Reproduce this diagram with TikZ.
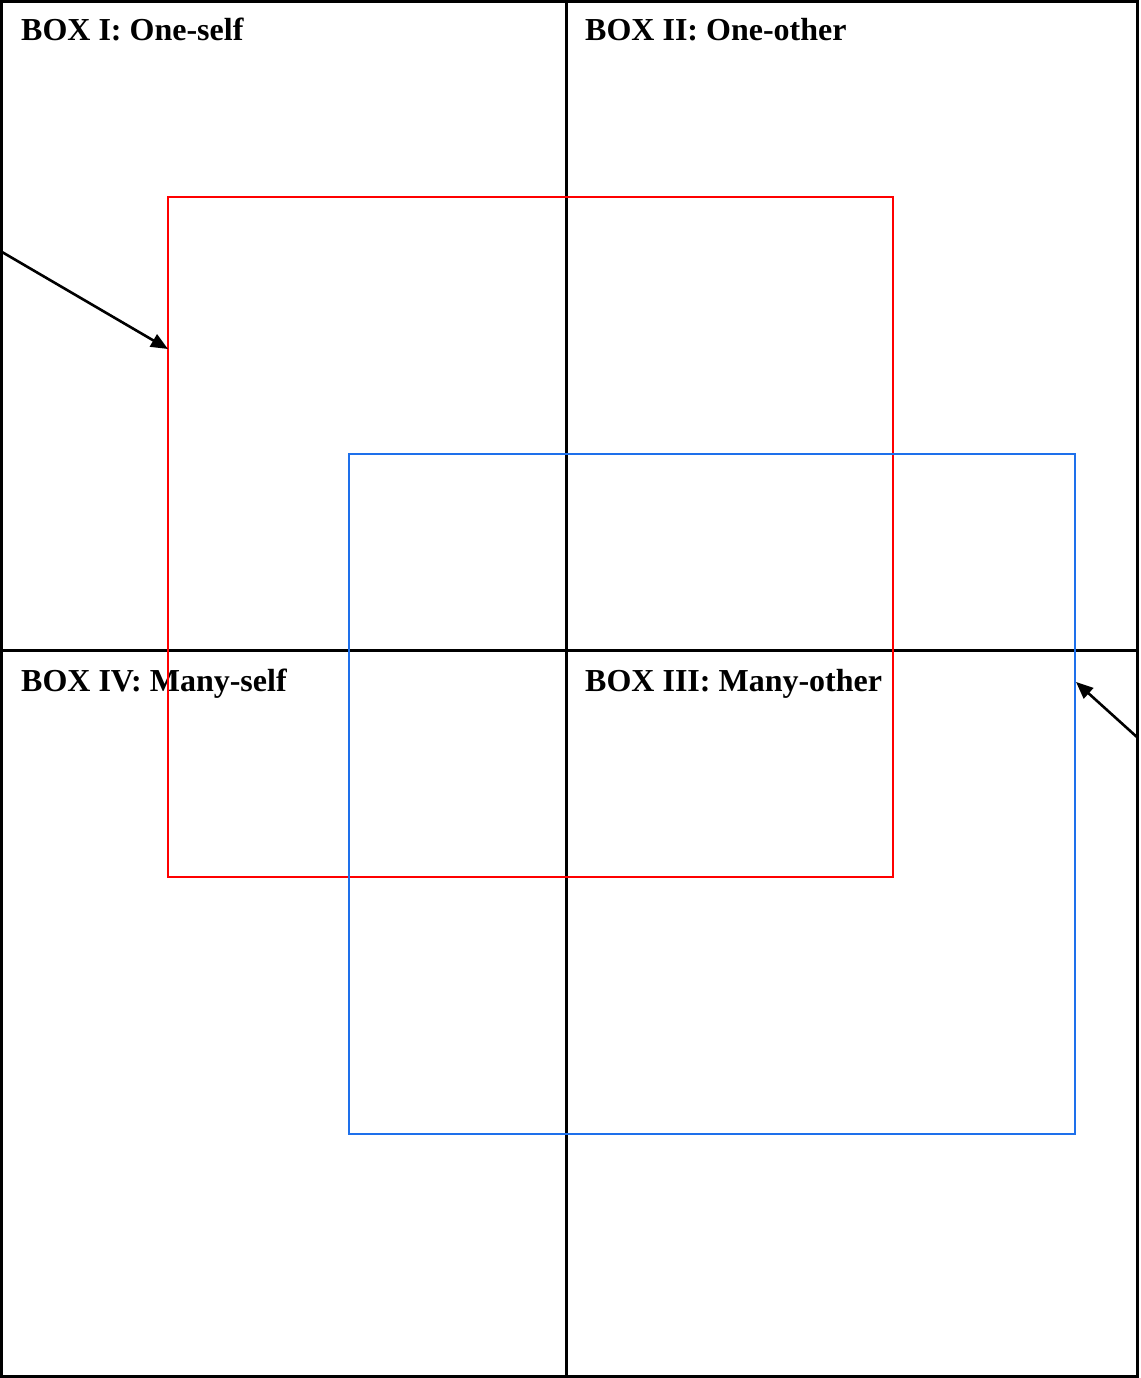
\documentclass[tikz,border=0pt]{standalone}
\usepackage{fontspec}
\setmainfont{Liberation Serif}
\usetikzlibrary{arrows.meta}
\definecolor{boxred}{RGB}{255,0,0}
\definecolor{boxblue}{RGB}{30,112,235}
\begin{document}
\begin{tikzpicture}[x=1pt,y=-1pt,
  frame/.style={draw=black,line width=3pt},
  region/.style={line width=2.3pt},
  lbl/.style={font=\bfseries\fontsize{32}{32}\selectfont,inner sep=0pt,anchor=base west},
  pointer/.style={draw=black,line width=2.6pt,-{Triangle[length=17pt,width=14pt]}}]
\useasboundingbox (0,0) rectangle (1140,1378);
% outer frame and quadrant dividers
\draw[frame] (1.5,1.5) rectangle (1137,1376);
\draw[frame] (566,1.5) -- (566,1376);
\draw[frame] (1.5,650) -- (1137,650);
% labels
\node[lbl] (b1) at (21,41) {BOX I: One-self};
\node[lbl] (b2) at (585,41) {BOX II: One-other};
\node[lbl] (b4) at (21,691) {BOX IV: Many-self};
\node[lbl] (b3) at (585,691) {BOX III: Many-other};
% red and blue regions
\draw[region,draw=boxred] (168,197) rectangle (893,877);
\draw[region,draw=boxblue] (349,454) rectangle (1075,1134);
\coordinate (redL) at (168,349);
\coordinate (blueR) at (1076,682);
\coordinate (s1) at (2,252);
\coordinate (s2) at (1138,738);
\draw[pointer] (s1) -- (redL);
\draw[pointer] (s2) -- (blueR);
\end{tikzpicture}
\end{document}
